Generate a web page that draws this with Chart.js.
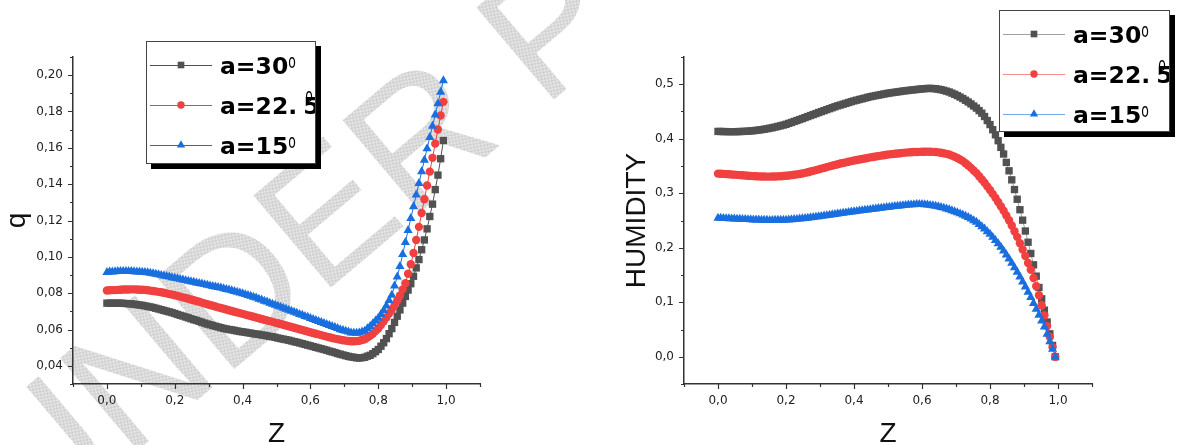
<!DOCTYPE html>
<html>
<head>
<meta charset="utf-8">
<title>q and humidity against Z</title>
<script src="https://cdn.jsdelivr.net/npm/chart.js@4.4.1/dist/chart.umd.min.js"></script>
<style>
  html, body { margin: 0; padding: 0; background: #fff; }
  #wrap { position: relative; width: 1178px; height: 445px; overflow: hidden; }
  canvas { position: absolute; top: 0; }
  #q-chart { left: 0; }
  #h-chart { left: 590px; }
</style>
</head>
<body>
<div id="wrap">
  <canvas id="q-chart" width="590" height="445"></canvas>
  <canvas id="h-chart" width="588" height="445"></canvas>
</div>
<script>
// Z grid shared by every curve (step 0.008, last node 0.992)
const zValues = [
  0.000, 0.008, 0.016, 0.024, 0.032, 0.040, 0.048, 0.056, 0.064, 0.072,
  0.080, 0.088, 0.096, 0.104, 0.112, 0.120, 0.128, 0.136, 0.144, 0.152,
  0.160, 0.168, 0.176, 0.184, 0.192, 0.200, 0.208, 0.216, 0.224, 0.232,
  0.240, 0.248, 0.256, 0.264, 0.272, 0.280, 0.288, 0.296, 0.304, 0.312,
  0.320, 0.328, 0.336, 0.344, 0.352, 0.360, 0.368, 0.376, 0.384, 0.392,
  0.400, 0.408, 0.416, 0.424, 0.432, 0.440, 0.448, 0.456, 0.464, 0.472,
  0.480, 0.488, 0.496, 0.504, 0.512, 0.520, 0.528, 0.536, 0.544, 0.552,
  0.560, 0.568, 0.576, 0.584, 0.592, 0.600, 0.608, 0.616, 0.624, 0.632,
  0.640, 0.648, 0.656, 0.664, 0.672, 0.680, 0.688, 0.696, 0.704, 0.712,
  0.720, 0.728, 0.736, 0.744, 0.752, 0.760, 0.768, 0.776, 0.784, 0.792,
  0.800, 0.808, 0.816, 0.824, 0.832, 0.840, 0.848, 0.856, 0.864, 0.872,
  0.880, 0.888, 0.896, 0.904, 0.912, 0.920, 0.928, 0.936, 0.944, 0.952,
  0.960, 0.968, 0.976, 0.984, 0.992
];

const seriesNames = ['a=30', 'a=22.5', 'a=15'];

// q
const qA30 = [
  0.0745, 0.0745, 0.0745, 0.0745, 0.0745, 0.0745, 0.0744, 0.0743, 0.0742, 0.0741,
  0.0739, 0.0737, 0.0735, 0.0733, 0.0730, 0.0727, 0.0724, 0.0721, 0.0717, 0.0713,
  0.0709, 0.0705, 0.0701, 0.0697, 0.0693, 0.0688, 0.0683, 0.0678, 0.0674, 0.0669,
  0.0664, 0.0659, 0.0654, 0.0650, 0.0645, 0.0640, 0.0635, 0.0630, 0.0626, 0.0622,
  0.0618, 0.0614, 0.0610, 0.0606, 0.0603, 0.0600, 0.0598, 0.0595, 0.0592, 0.0589,
  0.0587, 0.0585, 0.0582, 0.0580, 0.0577, 0.0575, 0.0573, 0.0570, 0.0568, 0.0565,
  0.0562, 0.0560, 0.0557, 0.0553, 0.0550, 0.0547, 0.0544, 0.0541, 0.0537, 0.0533,
  0.0530, 0.0526, 0.0522, 0.0518, 0.0514, 0.0510, 0.0506, 0.0502, 0.0498, 0.0494,
  0.0490, 0.0486, 0.0481, 0.0477, 0.0473, 0.0468, 0.0464, 0.0460, 0.0456, 0.0452,
  0.0449, 0.0447, 0.0444, 0.0443, 0.0445, 0.0447, 0.0453, 0.0458, 0.0467, 0.0478,
  0.0490, 0.0508, 0.0527, 0.0550, 0.0577, 0.0605, 0.0639, 0.0673, 0.0708, 0.0745,
  0.0782, 0.0817, 0.0852, 0.0893, 0.0939, 0.0985, 0.1039, 0.1093, 0.1154, 0.1222,
  0.1290, 0.1370, 0.1450, 0.1540, 0.1640
];
const qA225 = [
  0.0815, 0.0816, 0.0817, 0.0817, 0.0818, 0.0819, 0.0820, 0.0820, 0.0820, 0.0821,
  0.0821, 0.0820, 0.0819, 0.0819, 0.0818, 0.0816, 0.0814, 0.0812, 0.0810, 0.0807,
  0.0805, 0.0802, 0.0799, 0.0795, 0.0792, 0.0789, 0.0785, 0.0781, 0.0777, 0.0773,
  0.0769, 0.0765, 0.0761, 0.0757, 0.0753, 0.0748, 0.0744, 0.0739, 0.0735, 0.0731,
  0.0727, 0.0722, 0.0718, 0.0714, 0.0710, 0.0706, 0.0702, 0.0698, 0.0694, 0.0690,
  0.0686, 0.0682, 0.0678, 0.0674, 0.0670, 0.0666, 0.0662, 0.0658, 0.0654, 0.0650,
  0.0646, 0.0642, 0.0638, 0.0634, 0.0630, 0.0626, 0.0622, 0.0618, 0.0614, 0.0610,
  0.0606, 0.0601, 0.0597, 0.0593, 0.0589, 0.0585, 0.0581, 0.0577, 0.0573, 0.0569,
  0.0565, 0.0561, 0.0557, 0.0553, 0.0550, 0.0547, 0.0544, 0.0541, 0.0539, 0.0537,
  0.0535, 0.0535, 0.0536, 0.0538, 0.0542, 0.0546, 0.0556, 0.0565, 0.0577, 0.0591,
  0.0605, 0.0625, 0.0645, 0.0666, 0.0688, 0.0710, 0.0734, 0.0758, 0.0787, 0.0821,
  0.0855, 0.0907, 0.0959, 0.1021, 0.1093, 0.1165, 0.1241, 0.1317, 0.1393, 0.1469,
  0.1545, 0.1623, 0.1701, 0.1778, 0.1853
];
const qA15 = [
  0.0915, 0.0917, 0.0918, 0.0919, 0.0920, 0.0921, 0.0921, 0.0921, 0.0921, 0.0920,
  0.0919, 0.0918, 0.0917, 0.0916, 0.0915, 0.0913, 0.0911, 0.0908, 0.0905, 0.0902,
  0.0899, 0.0896, 0.0893, 0.0890, 0.0886, 0.0883, 0.0880, 0.0877, 0.0873, 0.0870,
  0.0867, 0.0864, 0.0861, 0.0857, 0.0854, 0.0851, 0.0848, 0.0845, 0.0841, 0.0838,
  0.0835, 0.0832, 0.0829, 0.0825, 0.0821, 0.0818, 0.0814, 0.0810, 0.0806, 0.0802,
  0.0798, 0.0793, 0.0788, 0.0784, 0.0779, 0.0774, 0.0768, 0.0763, 0.0757, 0.0752,
  0.0746, 0.0740, 0.0735, 0.0729, 0.0724, 0.0718, 0.0712, 0.0707, 0.0701, 0.0696,
  0.0690, 0.0684, 0.0679, 0.0673, 0.0668, 0.0662, 0.0656, 0.0651, 0.0645, 0.0640,
  0.0634, 0.0628, 0.0623, 0.0617, 0.0612, 0.0606, 0.0600, 0.0595, 0.0591, 0.0587,
  0.0582, 0.0581, 0.0580, 0.0582, 0.0587, 0.0592, 0.0605, 0.0618, 0.0633, 0.0648,
  0.0663, 0.0684, 0.0705, 0.0730, 0.0760, 0.0790, 0.0840, 0.0890, 0.0948, 0.1014,
  0.1080, 0.1146, 0.1212, 0.1277, 0.1341, 0.1405, 0.1469, 0.1533, 0.1596, 0.1658,
  0.1720, 0.1782, 0.1844, 0.1907, 0.1970
];

// humidity
const humA30 = [
  0.4135, 0.4133, 0.4132, 0.4131, 0.4130, 0.4130, 0.4130, 0.4131, 0.4132, 0.4134,
  0.4136, 0.4139, 0.4143, 0.4148, 0.4154, 0.4160, 0.4167, 0.4175, 0.4183, 0.4193,
  0.4203, 0.4214, 0.4226, 0.4238, 0.4251, 0.4265, 0.4282, 0.4299, 0.4317, 0.4334,
  0.4352, 0.4370, 0.4389, 0.4407, 0.4426, 0.4444, 0.4462, 0.4481, 0.4499, 0.4516,
  0.4534, 0.4552, 0.4569, 0.4587, 0.4604, 0.4619, 0.4634, 0.4649, 0.4665, 0.4680,
  0.4695, 0.4708, 0.4721, 0.4733, 0.4746, 0.4759, 0.4772, 0.4782, 0.4792, 0.4801,
  0.4811, 0.4821, 0.4830, 0.4839, 0.4846, 0.4853, 0.4860, 0.4867, 0.4875, 0.4881,
  0.4887, 0.4893, 0.4898, 0.4904, 0.4909, 0.4915, 0.4919, 0.4923, 0.4924, 0.4921,
  0.4918, 0.4909, 0.4900, 0.4888, 0.4873, 0.4858, 0.4837, 0.4816, 0.4792, 0.4765,
  0.4738, 0.4706, 0.4674, 0.4639, 0.4601, 0.4563, 0.4516, 0.4469, 0.4408, 0.4334,
  0.4260, 0.4166, 0.4072, 0.3964, 0.3842, 0.3720, 0.3566, 0.3412, 0.3246, 0.3068,
  0.2890, 0.2698, 0.2506, 0.2307, 0.2101, 0.1895, 0.1687, 0.1479, 0.1271, 0.1063,
  0.0855, 0.0638, 0.0421, 0.0208, 0.0000
];
const humA225 = [
  0.3360, 0.3358, 0.3355, 0.3351, 0.3348, 0.3345, 0.3341, 0.3337, 0.3333, 0.3329,
  0.3325, 0.3321, 0.3318, 0.3314, 0.3311, 0.3309, 0.3307, 0.3306, 0.3305, 0.3305,
  0.3306, 0.3308, 0.3310, 0.3313, 0.3316, 0.3320, 0.3326, 0.3332, 0.3339, 0.3346,
  0.3354, 0.3363, 0.3374, 0.3386, 0.3398, 0.3411, 0.3425, 0.3438, 0.3452, 0.3465,
  0.3479, 0.3493, 0.3506, 0.3520, 0.3533, 0.3545, 0.3556, 0.3567, 0.3579, 0.3590,
  0.3600, 0.3610, 0.3619, 0.3629, 0.3638, 0.3648, 0.3658, 0.3666, 0.3674, 0.3682,
  0.3690, 0.3698, 0.3706, 0.3713, 0.3718, 0.3724, 0.3730, 0.3735, 0.3741, 0.3746,
  0.3750, 0.3753, 0.3756, 0.3758, 0.3759, 0.3761, 0.3762, 0.3763, 0.3762, 0.3759,
  0.3757, 0.3750, 0.3743, 0.3734, 0.3722, 0.3710, 0.3690, 0.3670, 0.3646, 0.3618,
  0.3590, 0.3550, 0.3510, 0.3466, 0.3418, 0.3370, 0.3312, 0.3254, 0.3192, 0.3126,
  0.3060, 0.2988, 0.2916, 0.2840, 0.2760, 0.2680, 0.2592, 0.2504, 0.2408, 0.2304,
  0.2200, 0.2084, 0.1968, 0.1847, 0.1721, 0.1595, 0.1445, 0.1295, 0.1128, 0.0944,
  0.0760, 0.0562, 0.0364, 0.0177, 0.0000
];
const humA15 = [
  0.2545, 0.2543, 0.2540, 0.2538, 0.2535, 0.2533, 0.2531, 0.2528, 0.2526, 0.2523,
  0.2521, 0.2519, 0.2517, 0.2514, 0.2513, 0.2511, 0.2509, 0.2508, 0.2506, 0.2505,
  0.2505, 0.2506, 0.2507, 0.2507, 0.2508, 0.2510, 0.2513, 0.2516, 0.2520, 0.2524,
  0.2529, 0.2534, 0.2540, 0.2546, 0.2553, 0.2559, 0.2565, 0.2572, 0.2579, 0.2586,
  0.2593, 0.2600, 0.2607, 0.2615, 0.2622, 0.2629, 0.2636, 0.2643, 0.2651, 0.2658,
  0.2665, 0.2671, 0.2678, 0.2684, 0.2690, 0.2697, 0.2703, 0.2710, 0.2716, 0.2722,
  0.2729, 0.2735, 0.2742, 0.2748, 0.2753, 0.2759, 0.2765, 0.2770, 0.2776, 0.2781,
  0.2786, 0.2790, 0.2793, 0.2796, 0.2798, 0.2799, 0.2793, 0.2788, 0.2781, 0.2773,
  0.2765, 0.2754, 0.2743, 0.2730, 0.2715, 0.2700, 0.2682, 0.2664, 0.2645, 0.2625,
  0.2605, 0.2581, 0.2557, 0.2530, 0.2500, 0.2470, 0.2430, 0.2390, 0.2346, 0.2298,
  0.2250, 0.2194, 0.2138, 0.2077, 0.2011, 0.1945, 0.1871, 0.1797, 0.1719, 0.1637,
  0.1555, 0.1465, 0.1375, 0.1282, 0.1186, 0.1090, 0.0982, 0.0874, 0.0766, 0.0658,
  0.0550, 0.0414, 0.0278, 0.0140, 0.0000
];

// labelled tick values (the unlabelled ticks in between are minor)
const zTickLabels = [0, 0.2, 0.4, 0.6, 0.8, 1.0];
const qTickLabels = [0.04, 0.06, 0.08, 0.10, 0.12, 0.14, 0.16, 0.18, 0.20];
const humTickLabels = [0, 0.1, 0.2, 0.3, 0.4, 0.5];

const seriesColors = ['#515151', '#F14040', '#1A6FDF'];
const fadedColors = ['rgba(81,81,81,0.55)', 'rgba(241,64,64,0.6)', 'rgba(26,111,223,0.6)'];
const markerStyles = ['rect', 'circle', 'triangle'];
const markerRadii = [5.2, 4.2, 5.3];

Chart.defaults.font.family = '"DejaVu Sans", sans-serif';
Chart.defaults.color = '#222';

function commaLabel(list, digits) {
  return v => list.some(t => Math.abs(t - v) < 1e-6) ? v.toFixed(digits).replace('.', ',') : '';
}

function buildDatasets(series, lineColors) {
  return series.map((values, i) => ({
    label: seriesNames[i],
    data: zValues.map((z, k) => ({x: z, y: values[k]})),
    borderColor: lineColors[i],
    backgroundColor: seriesColors[i],
    pointBackgroundColor: seriesColors[i],
    pointStyle: markerStyles[i],
    pointRadius: markerRadii[i],
    pointBorderWidth: 0,
    pointHoverRadius: markerRadii[i],
    borderWidth: 1,
    tension: 0,
    order: series.length - i
  }));
}

// outward tick marks, longer where a label sits
const tickMarks = {
  id: 'tickMarks',
  afterDraw(chart) {
    const {ctx} = chart;
    ctx.save();
    ctx.strokeStyle = '#333';
    ctx.lineWidth = 1.2;
    ctx.beginPath();
    Object.values(chart.scales).forEach(scale => {
      scale.ticks.forEach(tick => {
        const len = tick.label ? 5 : 3;
        const p = Math.round(scale.getPixelForValue(tick.value)) + 0.5;
        if (scale.isHorizontal()) {
          ctx.moveTo(p, scale.top);
          ctx.lineTo(p, scale.top + len);
        } else {
          ctx.moveTo(scale.right - len, p);
          ctx.lineTo(scale.right, p);
        }
      });
    });
    ctx.stroke();
    ctx.restore();
  }
};

// framed legend with drop shadow: sample line, marker, label and degree mark
const boxedLegend = {
  id: 'boxedLegend',
  afterDraw(chart, args, opts) {
    const {ctx} = chart;
    const {left, top, width, height} = opts;
    ctx.save();
    ctx.fillStyle = '#000';
    ctx.fillRect(left + 5, top + 5, width, height);
    ctx.fillStyle = '#fff';
    ctx.fillRect(left, top, width, height);
    ctx.beginPath();
    ctx.rect(left, top, width, height);
    ctx.clip();
    chart.data.datasets.forEach((ds, i) => {
      const rowY = top + 24 + i * 40;
      ctx.strokeStyle = ds.borderColor;
      ctx.lineWidth = 1.2;
      ctx.beginPath();
      ctx.moveTo(left + 4, rowY + 0.5);
      ctx.lineTo(left + 66, rowY + 0.5);
      ctx.stroke();
      ctx.fillStyle = ds.pointBackgroundColor;
      Chart.helpers.drawPoint(ctx, {pointStyle: ds.pointStyle, radius: ds.pointRadius - 0.5, borderWidth: 0}, left + 35, rowY);

      ctx.fillStyle = '#000';
      ctx.font = 'bold 23.5px "DejaVu Sans"';
      ctx.textBaseline = 'alphabetic';
      const tx = left + 74;
      const by = rowY + 8.5;
      const parts = ds.label.split('.');
      let supX, supY;
      if (parts.length > 1) {
        const head = parts[0] + '.';
        ctx.fillText(head, tx, by);
        const fx = tx + ctx.measureText(head).width + 6;
        ctx.fillText(parts[1], fx, by);
        supX = fx + 2;
        supY = rowY - 3;
      } else {
        ctx.fillText(ds.label, tx, by);
        supX = tx + ctx.measureText(ds.label).width;
        supY = rowY + 2.6;
      }
      ctx.save();
      ctx.translate(supX, supY);
      ctx.scale(0.62, 1);
      ctx.font = '20px "DejaVu Sans"';
      ctx.fillText('o', 0, 0);
      ctx.restore();
    });
    ctx.restore();
    ctx.save();
    ctx.strokeStyle = '#444';
    ctx.lineWidth = 1;
    ctx.strokeRect(left + 0.5, top + 0.5, width - 1, height - 1);
    ctx.restore();
  }
};

// pale dithered stamp lettering behind the plot
const reviewStamp = {
  id: 'reviewStamp',
  beforeDraw(chart, args, opts) {
    if (!opts.text) return;
    const {ctx} = chart;
    const tile = document.createElement('canvas');
    tile.width = 2;
    tile.height = 2;
    const t = tile.getContext('2d');
    t.fillStyle = '#efefef';
    t.fillRect(0, 0, 2, 2);
    t.fillStyle = '#c6c6c6';
    t.fillRect(0, 0, 1, 1);
    t.fillRect(1, 1, 1, 1);
    ctx.save();
    ctx.translate(opts.x, opts.y);
    ctx.rotate(opts.angle);
    ctx.fillStyle = ctx.createPattern(tile, 'repeat');
    ctx.font = opts.font;
    ctx.textBaseline = 'alphabetic';
    ctx.fillText(opts.text, 0, 0);
    ctx.restore();
  }
};

function axisBase() {
  return {
    type: 'linear',
    border: {display: true, color: '#333', width: 1.5},
    grid: {display: false, drawTicks: false}
  };
}

function zAxis() {
  return Object.assign(axisBase(), {
    min: -0.1,
    max: 1.1,
    afterFit: s => { s.height = 61; },
    ticks: {stepSize: 0.1, autoSkip: false, maxRotation: 0, padding: 10, font: {size: 12}, callback: commaLabel(zTickLabels, 1)},
    title: {display: true, text: 'Z', color: '#111', padding: 0, font: {family: '"Liberation Sans", Arial', size: 28, lineHeight: 0.8}}
  });
}

new Chart(document.getElementById('q-chart'), {
  type: 'line',
  data: {datasets: buildDatasets([qA30, qA225, qA15], seriesColors)},
  options: {
    responsive: false,
    animation: false,
    devicePixelRatio: 1,
    events: [],
    layout: {padding: {top: 57, right: 110, left: 0, bottom: 0}},
    plugins: {
      legend: {display: false},
      tooltip: {enabled: false},
      boxedLegend: {left: 146, top: 41, width: 170, height: 123},
      reviewStamp: {text: 'UNDER PEER REVIEW', x: 30, y: 541, angle: -0.70, font: '175px "Liberation Sans"'}
    },
    scales: {
      x: zAxis(),
      y: Object.assign(axisBase(), {
        min: 0.03,
        max: 0.21,
        afterFit: s => { s.width = 73; },
        ticks: {stepSize: 0.01, autoSkip: false, padding: 10, font: {size: 12}, callback: commaLabel(qTickLabels, 2)},
        title: {display: true, text: 'q', color: '#111', padding: {top: 3, bottom: 0}, font: {family: '"Liberation Sans", Arial', size: 28, lineHeight: 1}}
      })
    }
  },
  plugins: [reviewStamp, tickMarks, boxedLegend]
});

new Chart(document.getElementById('h-chart'), {
  type: 'line',
  data: {datasets: buildDatasets([humA30, humA225, humA15], fadedColors)},
  options: {
    responsive: false,
    animation: false,
    devicePixelRatio: 1,
    events: [],
    layout: {padding: {top: 57, right: 86, left: 0, bottom: 0}},
    plugins: {
      legend: {display: false},
      tooltip: {enabled: false},
      boxedLegend: {left: 409, top: 10, width: 171, height: 122}
    },
    scales: {
      x: zAxis(),
      y: Object.assign(axisBase(), {
        min: -0.05,
        max: 0.55,
        afterFit: s => { s.width = 94; },
        ticks: {stepSize: 0.05, autoSkip: false, padding: 10, font: {size: 12}, callback: commaLabel(humTickLabels, 1)},
        title: {display: true, text: 'HUMIDITY', color: '#111', padding: {top: 33, bottom: 0}, font: {family: '"Liberation Sans", Arial', size: 28, lineHeight: 1}}
      })
    }
  },
  plugins: [tickMarks, boxedLegend]
});
</script>
</body>
</html>
